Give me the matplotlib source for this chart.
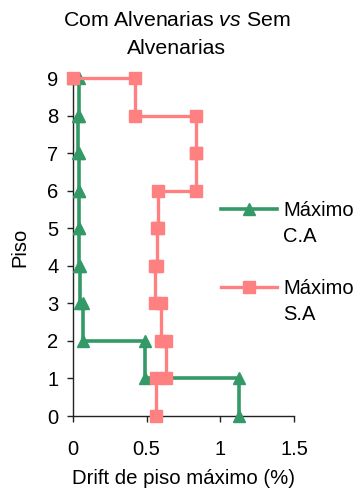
import matplotlib
matplotlib.use("Agg")
import matplotlib.pyplot as plt
from matplotlib.lines import Line2D

plt.rcParams["font.family"] = ["Liberation Sans", "DejaVu Sans"]
plt.rcParams["mathtext.fontset"] = "custom"
plt.rcParams["mathtext.rm"] = "Liberation Sans"
plt.rcParams["mathtext.it"] = "Liberation Sans:italic"

# Floor levels and storey drifts (%); drift[i] applies between floor i and i+1,
# the last value is the roof point.
floors = [0, 1, 2, 3, 4, 5, 6, 7, 8, 9]
drift_ca = [1.13, 0.49, 0.065, 0.05, 0.04, 0.04, 0.04, 0.035, 0.04, 0.0]
drift_sa = [0.565, 0.63, 0.60, 0.555, 0.57, 0.58, 0.835, 0.835, 0.42, 0.0]
series_name = "Máximo"
tag_ca = "C.A"
tag_sa = "S.A"
x_ticks = [0, 0.5, 1, 1.5]
x_tick_labels = ["0", "0.5", "1", "1.5"]

GREEN = "#339966"
RED = "#FF8080"
FS = 14.5


def step_path(drifts):
    xs, ys = [], []
    for i, d in enumerate(drifts[:-1]):
        xs += [d, d]
        ys += [floors[i], floors[i + 1]]
    xs.append(drifts[-1])
    ys.append(floors[-1])
    return xs, ys


W, H = 356, 491
fig = plt.figure(figsize=(W / 100, H / 100), dpi=100)
ax = fig.add_axes([73 / W, 1 - 416 / H, (294 - 73) / W, (416 - 78) / H])

x, y = step_path(drift_ca)
line_ca, = ax.plot(x, y, color=GREEN, lw=2.6, marker="^", ms=8.6, mec=GREEN,
                   mfc=GREEN, clip_on=False, zorder=3)
x, y = step_path(drift_sa)
line_sa, = ax.plot(x, y, color=RED, lw=2.4, marker="s", ms=8.2, mec=RED,
                   mfc=RED, clip_on=False, zorder=4)

ax.set_xlim(0, 1.5)
ax.set_ylim(0, 9)
ax.set_xticks(x_ticks)
ax.set_xticklabels(x_tick_labels)
ax.set_yticks(floors)
for s in ("top", "right"):
    ax.spines[s].set_visible(False)
for s in ("left", "bottom"):
    ax.spines[s].set_color("#222222")
    ax.spines[s].set_linewidth(1.0)
ax.tick_params(direction="out", length=4, width=1, color="#222222",
               labelsize=FS)
ax.tick_params(axis="x", pad=13)
ax.tick_params(axis="y", pad=6.5)

fig.text(0.497, 1 - 34.5 / H, "Com Alvenarias $\\mathit{vs}$ Sem\nAlvenarias",
         ha="center", va="center", fontsize=15.3, linespacing=1.55)
fig.text(20 / W, 1 - 247 / H, "Piso", rotation=90, ha="center", va="center",
         fontsize=FS)
ax.set_xlabel("Drift de piso máximo (%)", fontsize=14.7)
ax.xaxis.set_label_coords(0.5, -0.157)

# Legend: one block per series, the marker aligned with the first text line
blank = Line2D([], [], linestyle="none")
legend_kw = dict(loc="upper left", frameon=False, fontsize=FS, borderpad=0,
                 borderaxespad=0, handlelength=2.8, handletextpad=0.3,
                 labelspacing=0.35)
fig.legend([line_ca, blank], [series_name, tag_ca],
           bbox_to_anchor=(221 / W, 1 - 201 / H), **legend_kw)
fig.legend([line_sa, blank], [series_name, tag_sa],
           bbox_to_anchor=(221 / W, 1 - 279 / H), **legend_kw)

fig.savefig("out.png", dpi=100)
